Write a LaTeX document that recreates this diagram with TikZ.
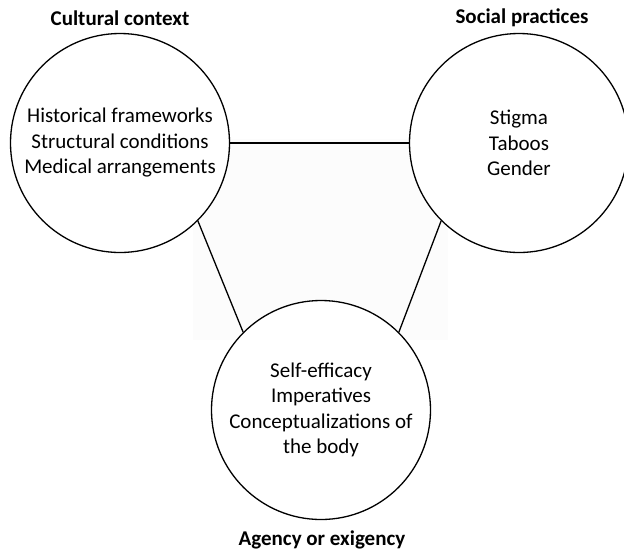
\documentclass[tikz,border=0pt]{standalone}
\usepackage{fontspec}
\setmainfont{Carlito}
\begin{document}
\begin{tikzpicture}[x=1pt,y=-1pt,
  bubble/.style={circle,draw=black,line width=1.3pt,fill=white,minimum size=219pt,inner sep=0pt,align=center,font=\fontsize{21}{25.5}\selectfont},
  heading/.style={font=\fontsize{21}{24}\selectfont\bfseries,inner sep=0pt},
  link/.style={line width=1.3pt,draw=black}]
\useasboundingbox (0,0) rectangle (624,550);
\fill[white] (0,0) rectangle (624,550);
\fill[black!1.3] (193,139) rectangle (448,340);
\node[bubble] (L) at (120,143) {Historical frameworks\\Structural conditions\\Medical arrangements};
\node[bubble] (R) at (519,143) {Stigma\\Taboos\\Gender};
\node[bubble] (B) at (321,410) {Self-efficacy\\Imperatives\\Conceptualizations of\\the body};
\node[heading] (tL) at (120,18) {Cultural context};
\node[heading] (tR) at (522,18) {Social practices};
\node[heading] (tB) at (322,540) {Agency or exigency};
\draw[link] (L.east) -- (R.west);
\draw[link] (L.-45) -- (B.135);
\draw[link] (R.225) -- (B.45);
\end{tikzpicture}
\end{document}
